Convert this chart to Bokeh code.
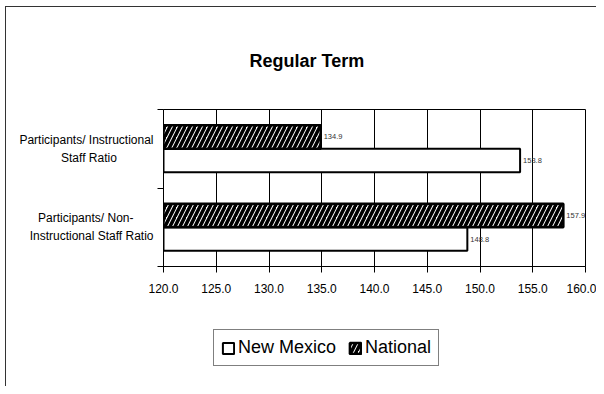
from bokeh.plotting import figure
from bokeh.layouts import column
from bokeh.models import (ColumnDataSource, Range1d, FixedTicker, PrintfTickFormatter,
                          Legend, LegendItem)
from bokeh.core.properties import value
from bokeh.embed import file_html
from bokeh.resources import INLINE

# ---- data ----
NB = "\u00a0"
categories = ["Participants/ Instructional\nStaff Ratio" + NB * 11,
              "Participants/ Non-" + NB * 6 + "\nInstructional Staff Ratio"]
new_mexico = [153.8, 148.8]
national = [134.9, 157.9]
x_ticks = [120, 125, 130, 135, 140, 145, 150, 155, 160]
series_names = ["New Mexico", "National"]
title_text = "Regular Term"

FONT = "'Liberation Sans Narrow', 'Arial Narrow', 'Liberation Sans', sans-serif"

n = len(categories)
centers = [n - i - 0.5 for i in range(n)]
bar_h = 0.3

src_nm = ColumnDataSource(dict(y=[c - bar_h / 2 for c in centers], v=new_mexico,
                               lbl=["%.1f" % v for v in new_mexico]))
src_na = ColumnDataSource(dict(y=[c + bar_h / 2 for c in centers], v=national,
                               lbl=["%.1f" % v for v in national]))

NM_STYLE = dict(fill_color="white", line_color="black", line_width=2)
NA_STYLE = dict(fill_color="white", line_color="black", line_width=2.5,
                hatch_pattern="right_diagonal_line", hatch_color="black",
                hatch_scale=10, hatch_weight=3.5)

p = figure(width=590, height=301, output_backend="svg", toolbar_location=None,
           x_range=Range1d(x_ticks[0], x_ticks[-1]), y_range=Range1d(0, n),
           min_border_left=157, min_border_right=11, min_border_top=102,
           min_border_bottom=42)

p.title.text = title_text
p.title.align = "left"
p.title.offset = 86
p.title.standoff = 78
p.title.text_font = FONT
p.title.text_font_size = "18px"
p.title.text_font_style = "bold"
p.title.text_color = "black"

p.hbar(y="y", left=x_ticks[0], right="v", height=bar_h, source=src_nm, **NM_STYLE)
p.hbar(y="y", left=x_ticks[0], right="v", height=bar_h, source=src_na, **NA_STYLE)

for s in (src_nm, src_na):
    p.text(x="v", y="y", text="lbl", source=s, x_offset=3, text_baseline="middle",
           text_font=value(FONT), text_font_size="7.5px", text_color="#333333")

# x axis
p.xaxis.ticker = FixedTicker(ticks=x_ticks)
p.xaxis.formatter = PrintfTickFormatter(format="%.1f")
p.xaxis.major_label_text_font = FONT
p.xaxis.major_label_text_font_size = "12px"
p.xaxis.major_label_text_color = "black"
p.xaxis.major_tick_in = 0
p.xaxis.major_tick_out = 6
p.xaxis.minor_tick_line_color = None
p.xaxis.axis_line_color = "black"
p.xaxis.major_tick_line_color = "black"
p.xaxis.major_label_standoff = 11

# y axis
p.yaxis.ticker = FixedTicker(ticks=centers, minor_ticks=list(range(n + 1)))
p.yaxis.major_label_overrides = {c: categories[i] for i, c in enumerate(centers)}
p.yaxis.major_tick_line_color = None
p.yaxis.minor_tick_in = 0
p.yaxis.minor_tick_out = 6
p.yaxis.minor_tick_line_color = "black"
p.yaxis.axis_line_color = "black"
p.yaxis.major_label_text_font = FONT
p.yaxis.major_label_text_font_size = "12px"
p.yaxis.major_label_text_color = "black"
p.yaxis.major_label_text_line_height = 1.3
p.yaxis.major_label_standoff = 4

p.xgrid.grid_line_color = "black"
p.xgrid.grid_line_alpha = 1
p.ygrid.grid_line_color = None
p.outline_line_color = "black"
p.outline_line_alpha = 1

# legend holder figure (frame aligned with the main plot's frame; its bars are hidden)
q = figure(width=590, height=78, output_backend="svg", toolbar_location=None,
           x_axis_type=None, y_axis_type=None,
           x_range=Range1d(x_ticks[0], x_ticks[-1]), y_range=Range1d(10, 11),
           min_border=0)
q.outline_line_color = None
q.xgrid.grid_line_color = None
q.ygrid.grid_line_color = None
l_nm = q.hbar(y="y", left=x_ticks[0], right="v", height=bar_h, source=src_nm, **NM_STYLE)
l_na = q.hbar(y="y", left=x_ticks[0], right="v", height=bar_h, source=src_na, **NA_STYLE)
l_nm.visible = False
l_na.visible = False

legend = Legend(items=[LegendItem(label=series_names[0], renderers=[l_nm]),
                       LegendItem(label=series_names[1], renderers=[l_na])],
                orientation="horizontal", location=(50, 20), margin=0,
                label_text_font=FONT, label_text_font_size="18px",
                label_text_color="black",
                glyph_width=14, glyph_height=14, spacing=12, padding=7,
                label_standoff=3, border_line_color="black", border_line_width=1,
                background_fill_alpha=1, inactive_fill_alpha=0)
q.add_layout(legend, "center")

layout = column(p, q, spacing=0,
                styles={"margin-left": "5px", "margin-top": "6px",
                        "border-left": "1px solid #333333",
                        "border-top": "1px solid #333333"})

open("out.html", "w").write(file_html(layout, INLINE))
